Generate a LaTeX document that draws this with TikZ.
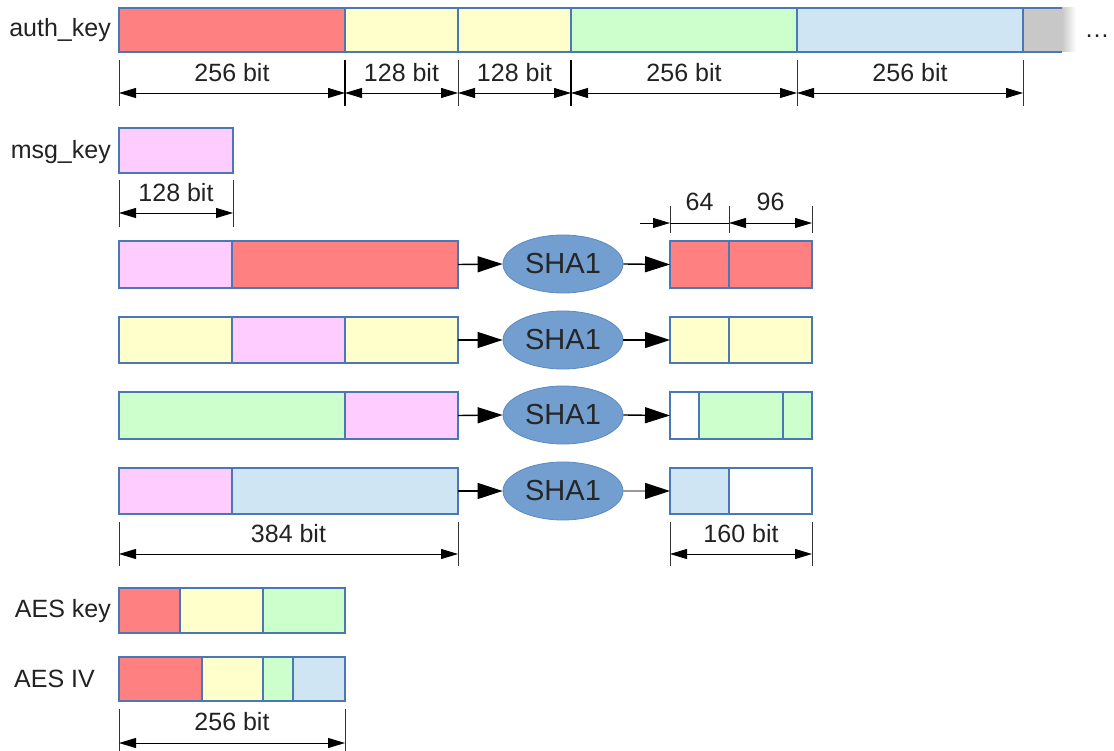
\documentclass[tikz,border=0pt]{standalone}
\usepackage{fontspec}
\setmainfont{Liberation Sans}
\usetikzlibrary{arrows.meta,shapes.geometric,calc}
\definecolor{cred}{HTML}{FF8080}
\definecolor{cyel}{HTML}{FFFFCC}
\definecolor{cgrn}{HTML}{CCFFCC}
\definecolor{cblu}{HTML}{CFE5F3}
\definecolor{cpnk}{HTML}{FFCCFF}
\definecolor{cgry}{HTML}{C8C8C8}
\definecolor{cbord}{HTML}{4A78B4}
\definecolor{cell}{HTML}{729FCF}
\definecolor{cellb}{HTML}{5B89C2}
\definecolor{ctxt}{HTML}{222222}
\newcommand\segm[6]{\node[seg, fill=#6, minimum width={#3-#2}, minimum height={#5-#4}] (#1) at (#2,#4) {};}
\begin{document}
\begin{tikzpicture}[x=1pt,y=-1pt,
  seg/.style={draw=cbord, line width=1.2pt, anchor=north west, inner sep=0pt, outer sep=0pt},
  lbl/.style={font=\fontsize{25}{29}\selectfont, text=ctxt, inner sep=0pt},
  dimtick/.style={draw=black!80, line width=0.9pt},
  thicktick/.style={draw=black, line width=2pt},
  dimarr/.style={draw=black, line width=0.9pt, {Triangle[length=17pt,width=10pt]}-{Triangle[length=17pt,width=10pt]}},
  dimarrr/.style={draw=black, line width=0.9pt, -{Triangle[length=17pt,width=10pt]}},
  flow/.style={draw=black, line width=1.4pt, -{Triangle[length=25pt,width=16pt]}},
  hashnode/.style={ellipse, fill=cell, draw=cellb, line width=0.8pt, minimum width=120pt, minimum height=58pt, inner sep=0pt, font=\fontsize{29}{32}\selectfont, text=black!85}
]
\useasboundingbox (0,0) rectangle (1114,751);

% ---------- auth_key ----------
\segm{ak1}{119}{345}{8}{52}{cred}
\segm{ak2}{345}{458}{8}{52}{cyel}
\segm{ak3}{458}{571}{8}{52}{cyel}
\segm{ak4}{571}{797}{8}{52}{cgrn}
\segm{ak5}{797}{1023}{8}{52}{cblu}
\fill[cgry] (1023,8) rectangle (1062,52);
\shade[left color=cgry, right color=white] (1062,8) rectangle (1076,52);
\draw[cbord, line width=1.2pt] (1023,8) -- (1062,8) (1023,52) -- (1062,52);
\draw[cbord, line width=1.2pt] (ak5.north east) -- (ak5.south east);
\node[lbl, anchor=east] (authlbl) at (111,30) {auth\_key};
\node[lbl, anchor=base] (dots) at (1097,38) {…};

% dimensions auth_key
\foreach \n in {ak1,ak2,ak3,ak4,ak5} {
  \draw[dimtick] ([yshift=-8pt]\n.south west) -- ++(0,46);
}
\draw[dimtick] ([yshift=-8pt]ak5.south east) -- ++(0,46);
\draw[thicktick] ([yshift=-8pt]ak2.south west) -- ++(0,46);
\draw[thicktick] ([yshift=-8pt]ak4.south west) -- ++(0,46);
\foreach \n/\t in {ak1/256 bit,ak2/128 bit,ak3/128 bit,ak4/256 bit,ak5/256 bit} {
  \draw[dimarr] ([yshift=-41pt]\n.south west) -- ([yshift=-41pt]\n.south east);
  \node[lbl] at ([yshift=-21pt]\n.south) {\t};
}

% ---------- msg_key ----------
\segm{mk}{119}{233}{128}{173}{cpnk}
\node[lbl, anchor=east] (msglbl) at (111,152) {msg\_key};
\draw[dimtick] ([yshift=-7pt]mk.south west) -- ++(0,47);
\draw[dimtick] ([yshift=-7pt]mk.south east) -- ++(0,47);
\draw[dimarr] ([yshift=-40pt]mk.south west) -- ([yshift=-40pt]mk.south east);
\node[lbl] (mkdim) at ([yshift=-20pt]mk.south) {128 bit};

% ---------- row 1 ----------
\segm{r1a}{119}{232}{241}{288}{cpnk}
\segm{r1b}{232}{458}{241}{288}{cred}
\node[hashnode] (h1) at (563,264) {SHA1};
\segm{o1a}{670}{729}{241}{288}{cred}
\segm{o1b}{729}{812}{241}{288}{cred}
\draw[flow] (r1b.east) -- (h1.west);
\draw[flow] (h1.east) -- (o1a.west);
% 64 / 96
\coordinate (d64s) at (640,223);
\draw[dimtick] ([yshift=8pt]o1a.north west) -- ++(0,-27);
\draw[dimtick] ([yshift=8pt]o1b.north west) -- ++(0,-27);
\draw[dimtick] ([yshift=8pt]o1b.north east) -- ++(0,-27);
\draw[dimarrr] (d64s) -- ([yshift=18pt]o1a.north west);
\draw[draw=black, line width=0.9pt] ([yshift=18pt]o1a.north west) -- ([yshift=18pt]o1a.north east);
\draw[dimarr] ([yshift=18pt]o1b.north west) -- ([yshift=18pt]o1b.north east);
\node[lbl] (l64) at ([yshift=39pt]o1a.north) {64};
\node[lbl] (l96) at ([yshift=39pt]o1b.north) {96};

% ---------- row 2 ----------
\segm{r2a}{119}{232}{317}{363}{cyel}
\segm{r2b}{232}{345}{317}{363}{cpnk}
\segm{r2c}{345}{458}{317}{363}{cyel}
\node[hashnode] (h2) at (563,340) {SHA1};
\segm{o2a}{670}{729}{317}{363}{cyel}
\segm{o2b}{729}{812}{317}{363}{cyel}
\draw[flow] (r2c.east) -- (h2.west);
\draw[flow] (h2.east) -- (o2a.west);

% ---------- row 3 ----------
\segm{r3a}{119}{345}{392}{439}{cgrn}
\segm{r3b}{345}{458}{392}{439}{cpnk}
\node[hashnode] (h3) at (563,415) {SHA1};
\segm{o3a}{670}{699}{392}{439}{white}
\segm{o3b}{699}{783}{392}{439}{cgrn}
\segm{o3c}{783}{812}{392}{439}{cgrn}
\draw[flow] (r3b.east) -- (h3.west);
\draw[flow] (h3.east) -- (o3a.west);

% ---------- row 4 ----------
\segm{r4a}{119}{232}{468}{514}{cpnk}
\segm{r4b}{232}{458}{468}{514}{cblu}
\node[hashnode] (h4) at (563,491) {SHA1};
\segm{o4a}{670}{729}{468}{514}{cblu}
\segm{o4b}{729}{812}{468}{514}{white}
\draw[flow] (r4b.east) -- (h4.west);
\draw[flow, draw=black!40, -{Triangle[length=25pt,width=16pt,color=black]}] (h4.east) -- (o4a.west);

% 384 bit
\draw[dimtick] ([yshift=-8pt]r4a.south west) -- ++(0,44);
\draw[dimtick] ([yshift=-8pt]r4b.south east) -- ++(0,44);
\draw[dimarr] ([yshift=-40pt]r4a.south west) -- ([yshift=-40pt]r4b.south east);
\node[lbl] (l384) at ([yshift=-20pt]$(r4a.south west)!0.5!(r4b.south east)$) {384 bit};
% 160 bit
\draw[dimtick] ([yshift=-8pt]o4a.south west) -- ++(0,44);
\draw[dimtick] ([yshift=-8pt]o4b.south east) -- ++(0,44);
\draw[dimarr] ([yshift=-40pt]o4a.south west) -- ([yshift=-40pt]o4b.south east);
\node[lbl] (l160) at ([yshift=-20pt]$(o4a.south west)!0.5!(o4b.south east)$) {160 bit};

% ---------- AES key ----------
\segm{k1}{119}{180}{588}{633}{cred}
\segm{k2}{180}{263}{588}{633}{cyel}
\segm{k3}{263}{345}{588}{633}{cgrn}
\node[lbl, anchor=east] (aeskey) at (111,611) {AES key};

% ---------- AES IV ----------
\segm{v1}{119}{202}{657}{701}{cred}
\segm{v2}{202}{263}{657}{701}{cyel}
\segm{v3}{263}{293}{657}{701}{cgrn}
\segm{v4}{293}{345}{657}{701}{cblu}
\node[lbl, anchor=west] (aesiv) at (14,679) {AES IV};
\draw[dimtick] ([yshift=-8pt]v1.south west) -- ++(0,50);
\draw[dimtick] ([yshift=-8pt]v4.south east) -- ++(0,50);
\draw[dimarr] ([yshift=-42pt]v1.south west) -- ([yshift=-42pt]v4.south east);
\node[lbl] (l256) at ([yshift=-21pt]$(v1.south west)!0.5!(v4.south east)$) {256 bit};
\end{tikzpicture}
\end{document}
